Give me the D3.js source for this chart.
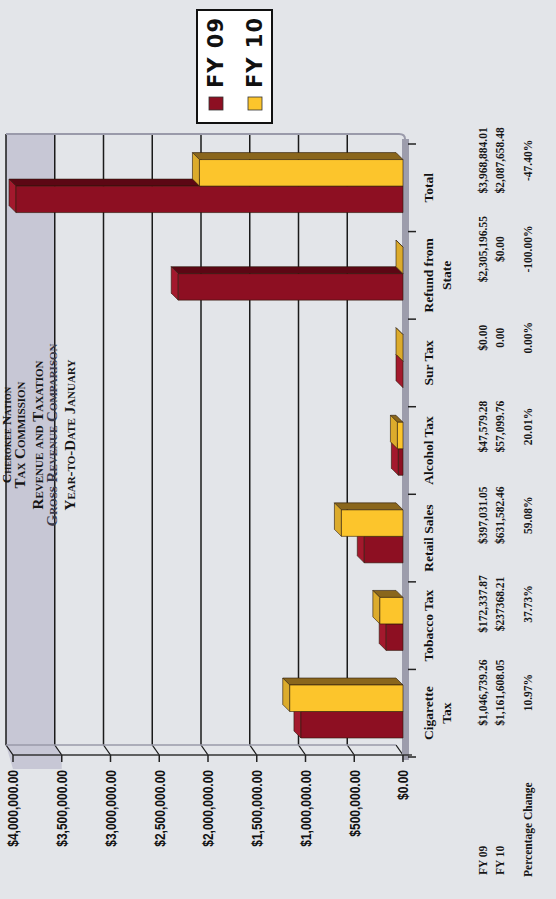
<!DOCTYPE html>
<html><head><meta charset="utf-8">
<script src="https://cdn.jsdelivr.net/npm/d3@7"></script>
<style>html,body{margin:0;padding:0;background:#e3e5e9;overflow:hidden}svg{display:block}</style>
</head><body>
<script>
// ---- data ----
const categories = ["Cigarette Tax","Tobacco Tax","Retail Sales","Alcohol Tax","Sur Tax","Refund from State","Total"];
const categoryLines = [["Cigarette","Tax"],["Tobacco Tax"],["Retail Sales"],["Alcohol Tax"],["Sur Tax"],["Refund from","State"],["Total"]];
const series = ["FY 09","FY 10"];
const fy09 = [1046739.26, 172337.87, 397031.05, 47579.28, 0, 2305196.55, 3968884.01];
const fy10 = [1161608.05, 237368.21, 631582.46, 57099.76, 0, 0, 2087658.48];
const valueTicks = [0,500000,1000000,1500000,2000000,2500000,3000000,3500000,4000000];
const fy09Text = ["$1,046,739.26","$172,337.87","$397,031.05","$47,579.28","$0.00","$2,305,196.55","$3,968,884.01"];
const fy10Text = ["$1,161,608.05","$237368.21","$631,582.46","$57,099.76","0.00","$0.00","$2,087,658.48"];
const pctText  = ["10.97%","37.73%","59.08%","20.01%","0.00%","-100.00%","-47.40%"];
const rowLabels = ["FY 09","FY 10","Percentage Change"];
const titleLines = ["Cherokee Nation","Tax Commission","Revenue and Taxation","Gross Revenue Comparison","Year-to-Date January"];

const colors = {
  "FY 09": {front:"#8d0f22", top:"#a3192d", side:"#5c0714"},
  "FY 10": {front:"#fcc52c", top:"#dcab2c", side:"#8a661c"}
};

// ---- drawing (built landscape, then rotated) ----
const svg = d3.select("body").append("svg").attr("width",556).attr("height",899);
svg.append("rect").attr("width",556).attr("height",899).attr("fill","#e3e5e9");
const g = svg.append("g").attr("transform","translate(0,899) rotate(-90)");

const x0 = d3.scaleBand().domain(categories).range([142,755]);
const x1 = d3.scaleBand().domain(series).range([19,72]);
const y  = d3.scaleLinear().domain([0,4000000]).range([403,13]);
const tx = d3.scaleBand().domain(categories).range([162,783]);
const D = 7;       // bar depth
const WX0 = 144, WX1 = 154, WEND = 765, WD = 7; // walls

// shaded band at top of value range
const yA = y(4000000), yB = y(3500000);
g.append("polygon")
  .attr("points",[[WX0-14,yA],[WX1,yA-WD],[WEND,yA-WD],[WEND,yB-WD],[WX1,yB-WD],[WX0,yB],[WX0-14,yB]].join(" "))
  .attr("fill","#c7c7d5");

// gridlines
const grid = g.append("g");
valueTicks.forEach(v=>{
  const yy = y(v);
  if (v>0) {
    grid.append("line").attr("x1",WX1).attr("x2",WEND).attr("y1",yy-WD).attr("y2",yy-WD)
      .attr("stroke","#1a1a1a").attr("stroke-width",1.5);
  }
  grid.append("line").attr("x1",WX0).attr("x2",WX1).attr("y1",yy).attr("y2",yy-WD)
    .attr("stroke","#1a1a1a").attr("stroke-width",1.3);
});
g.append("line").attr("x1",WX1).attr("x2",WX1).attr("y1",yA-WD).attr("y2",y(0)-WD)
  .attr("stroke","#9a9aa8").attr("stroke-width",1.5);
g.append("path")
  .attr("d",`M${WEND},${yA-WD} L${WEND},${y(0)-4} Q${WEND},${y(0)+2} ${WEND-5},${y(0)+2}`)
  .attr("fill","none").attr("stroke","#9a9aaa").attr("stroke-width",2);
g.append("rect").attr("x",139).attr("y",y(0)-1).attr("width",WEND-139-5).attr("height",7)
  .attr("fill","#9d9dac");

// bars
categories.forEach((c,i)=>{
  [[series[0],fy09[i]],[series[1],fy10[i]]].forEach(([s,v])=>{
    const xa = x0(c)+x1(s), w = x1.bandwidth(), yv = y(v), yb = y(0);
    const col = colors[s];
    const bg = g.append("g").attr("stroke","#2a1a0a").attr("stroke-width",0.6).attr("stroke-linejoin","round");
    bg.append("polygon").attr("points",[[xa+w,yv],[xa+w+D,yv-D],[xa+w+D,yb-D],[xa+w,yb]].join(" ")).attr("fill",col.side);
    bg.append("polygon").attr("points",[[xa,yv],[xa+D,yv-D],[xa+w+D,yv-D],[xa+w,yv]].join(" ")).attr("fill",col.top);
    bg.append("rect").attr("x",xa).attr("y",yv).attr("width",w).attr("height",yb-yv).attr("fill",col.front);
  });
});

// value axis
g.append("line").attr("x1",WX0).attr("x2",WX0).attr("y1",y(4000000)).attr("y2",y(0)+9)
  .attr("stroke","#333").attr("stroke-width",1.5);
valueTicks.forEach(v=>{
  g.append("line").attr("x1",WX0-7).attr("x2",WX0).attr("y1",y(v)).attr("y2",y(v)).attr("stroke","#222").attr("stroke-width",1.5);
});
g.append("g").selectAll("text").data(valueTicks).join("text")
  .attr("transform",d=>`translate(129,${y(d)}) scale(0.8,1)`)
  .attr("dy","0.36em").attr("text-anchor","end")
  .attr("font-family","'Liberation Sans',Arial,sans-serif")
  .attr("font-weight","bold").attr("font-size",15).attr("fill","#111")
  .text(d=>d3.format("$,.2f")(d));

// category ticks
x0.domain().concat([null]).forEach(c=>{
  const xx = c===null ? x0.range()[1] : x0(c);
  g.append("line").attr("x1",xx).attr("x2",xx).attr("y1",y(0)+5).attr("y2",y(0)+13).attr("stroke","#222").attr("stroke-width",1.5);
});
// category labels
categories.forEach((c,i)=>{
  categoryLines[i].forEach((ln,j)=>{
    g.append("text").attr("x",x0(c)+x0.bandwidth()/2).attr("y",428+j*18).attr("dy","0.35em")
      .attr("text-anchor","middle").attr("font-family","'Liberation Serif',serif")
      .attr("font-weight","bold").attr("font-size",13.5).attr("fill","#111").text(ln);
  });
});

// data table
const rowsY = [483,500,528];
[fy09Text,fy10Text,pctText].forEach((arr,r)=>{
  g.append("g").selectAll("text").data(arr).join("text")
    .attr("x",(d,i)=>tx(categories[i])+tx.bandwidth()/2).attr("y",rowsY[r]).attr("dy","0.35em")
    .attr("text-anchor","middle").attr("font-family","'Liberation Serif',serif")
    .attr("font-size",11.5).attr("font-weight","600").attr("fill","#161616").text(d=>d);
});
g.append("g").selectAll("text").data(rowLabels).join("text")
  .attr("x",(d,i)=>i<2?24:22).attr("y",(d,i)=>rowsY[i]).attr("dy","0.35em")
  .attr("font-family","'Liberation Serif',serif").attr("font-size",11.5).attr("font-weight","600")
  .attr("fill","#161616").text(d=>d);

// title
const titleBase = [11,25,43,57,75];
const titleSize = [13,15,15,15,15];
titleLines.forEach((t,i)=>{
  g.append("text").attr("x",464).attr("y",titleBase[i]).attr("text-anchor","middle")
    .attr("font-family","'Liberation Serif',serif").attr("font-weight","bold")
    .attr("font-size",titleSize[i]).style("font-variant","small-caps")
    .attr("fill", i===3 ? "#3a3a4a" : "#161616").text(t);
});

// legend
const lg = g.append("g");
lg.append("rect").attr("x",776).attr("y",197).attr("width",113).attr("height",75)
  .attr("fill","#ffffff").attr("stroke","#111").attr("stroke-width",2);
series.forEach((s,i)=>{
  const yy = [223,262][i];
  lg.append("rect").attr("x",789).attr("y",yy-14).attr("width",13).attr("height",14)
    .attr("fill",colors[s].front).attr("stroke","#333").attr("stroke-width",0.8);
  lg.append("text").attr("x",811).attr("y",yy).attr("font-family","'DejaVu Sans',sans-serif")
    .attr("font-weight","bold").attr("font-size",21).attr("letter-spacing",1).attr("fill","#111").text(s);
});
</script>
</body></html>
